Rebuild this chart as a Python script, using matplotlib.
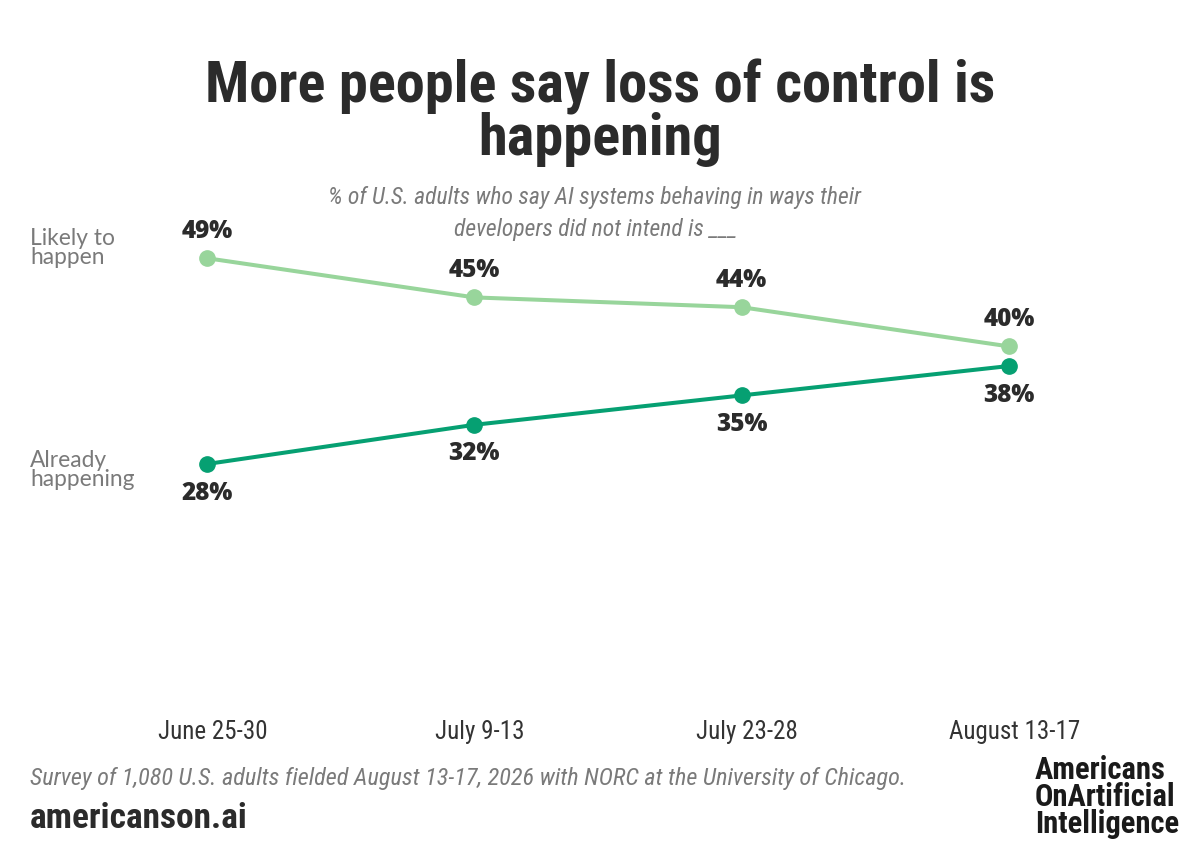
import matplotlib
matplotlib.use("Agg")
import matplotlib.pyplot as plt

# ---- data ----
periods = ["June 25-30", "July 9-13", "July 23-28", "August 13-17"]
likely_to_happen = [49, 45, 44, 40]
already_happening = [28, 32, 35, 38]
series_names = ["Likely to\nhappen", "Already\nhappening"]

title = "More people say loss of control is\nhappening"
subtitle = "% of U.S. adults who say AI systems behaving in ways their\ndevelopers did not intend is ___"
source = "Survey of 1,080 U.S. adults fielded August 13-17, 2026 with NORC at the University of Chicago."
site = "americanson.ai"
logo = "Americans\nOnArtificial\nIntelligence"

# ---- style ----
LIGHT = "#98d59b"
DARK = "#06a072"
INK = "#2b2b2b"
GREY = "#7a7a7a"
COND = ["Roboto Condensed", "Liberation Sans Narrow", "DejaVu Sans"]
VAL = ["Open Sans", "Roboto", "DejaVu Sans"]
PLAIN = ["Lato", "DejaVu Sans"]

W, H = 1200, 857
fig = plt.figure(figsize=(12, 8.57), dpi=100)
fig.patch.set_facecolor("white")

def fx(px):
    return px / W

def fy(py):
    return 1 - py / H

ax = fig.add_axes([fx(100), fy(700), fx(1000), (700 - 190) / H])
ax.set_xlim(-0.400, 3.340)
ax.set_ylim(3.92, 55.96)
ax.axis("off")

x = list(range(len(periods)))
ax.plot(x, likely_to_happen, color=LIGHT, lw=2.9, marker="o", ms=11, zorder=3)
ax.plot(x, already_happening, color=DARK, lw=2.9, marker="o", ms=11, zorder=4)

for xi, v in zip(x, likely_to_happen):
    ax.annotate(f"{v}%", (xi, v), xytext=(0, 19.5), textcoords="offset points",
                ha="center", va="center", fontsize=17.5, fontweight=800,
                family=VAL, color=INK)
for xi, v in zip(x, already_happening):
    ax.annotate(f"{v}%", (xi, v), xytext=(0, -21), textcoords="offset points",
                ha="center", va="center", fontsize=17.5, fontweight=800,
                family=VAL, color=INK)

# x tick labels at y = 732 px
for xi, lab in zip(x, periods):
    ax.annotate(lab, (xi, fy(732)), xycoords=("data", "figure fraction"),
                xytext=(4, 0), textcoords="offset points",
                ha="center", va="center", fontsize=18, family=COND,
                fontstretch="condensed", color="#333333")

# series labels at left
fig.text(fx(30), fy(248), series_names[0], ha="left", va="center", fontsize=16.4,
         family=PLAIN, color=GREY, linespacing=0.86)
fig.text(fx(30), fy(470), series_names[1], ha="left", va="center", fontsize=16.4,
         family=PLAIN, color=GREY, linespacing=0.86)

# title / subtitle
fig.text(0.5, fy(113), title, ha="center", va="center", fontsize=42,
         fontweight=900, family=COND, fontstretch="condensed", color=INK,
         linespacing=0.95)
fig.text(fx(595), fy(213), subtitle, ha="center", va="center", fontsize=17,
         style="italic", family=COND, fontstretch="condensed", color=GREY,
         linespacing=1.5)

# footer
fig.text(fx(30), fy(779), source, ha="left", va="center", fontsize=17.5,
         style="italic", family=COND, fontstretch="condensed", color=GREY)
fig.text(fx(30), fy(819), site, ha="left", va="center", fontsize=25.5,
         fontweight="bold", family=COND, fontstretch="condensed", color=INK)
fig.text(fx(1035), fy(797), logo, ha="left", va="center", fontsize=22,
         fontweight=900, family=COND, fontstretch="condensed",
         color="#1a1a1a", linespacing=0.88)

fig.savefig("out.png", dpi=100, facecolor="white")
